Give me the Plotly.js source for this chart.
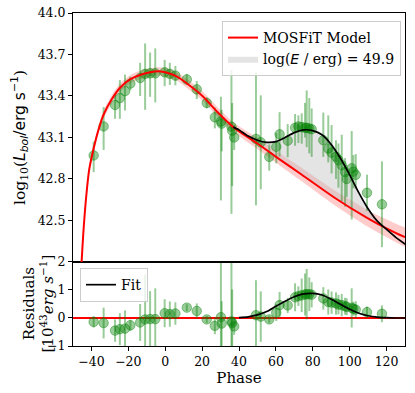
<!DOCTYPE html>
<html>
<head>
<meta charset="utf-8">
<script src="https://cdn.plot.ly/plotly-3.0.1.min.js"></script>
<style>
  html, body { margin: 0; padding: 0; background: #fff; }
  #chart { width: 415px; height: 393px; }
</style>
</head>
<body>
<div id="chart"></div>
<script>
// ---- observed bolometric light curve ----
const phase = [-38.8, -33.4, -27.2, -24.6, -21.8, -18.9, -13.6, -10.9, -8.2, -5.4, -0.3, 2.5, 5.5, 11.7, 17.1, 22.5, 26.9, 30.2, 30.6, 35.9, 36.3, 37.4, 49.2, 51.8, 56.4, 60.2, 62.0, 66.4, 70.4, 72.2, 74.0, 75.8, 76.7, 78.1, 79.4, 85.7, 88.4, 90.2, 92.6, 93.9, 95.7, 97.5, 98.4, 101.1, 102.0, 103.3, 109.4, 117.5];
const logL = [42.97, 43.18, 43.335, 43.385, 43.435, 43.49, 43.53, 43.56, 43.564, 43.564, 43.571, 43.56, 43.547, 43.52, 43.448, 43.35, 43.246, 43.215, 43.20, 43.178, 43.149, 43.10, 43.09, 43.065, 42.96, 43.033, 43.123, 43.077, 43.17, 43.18, 43.175, 43.17, 43.17, 43.165, 43.16, 43.08, 43.02, 42.99, 42.96, 42.937, 42.90, 42.85, 42.80, 42.877, 42.853, 42.83, 42.70, 42.617];
const logLErrUp = [0.10, 0.14, 0.08, 0.13, 0.12, 0.05, 0.11, 0.22, 0.15, 0.18, 0.09, 0.08, 0.07, 0.04, 0.06, 0.04, 0.07, 0.18, 0.10, 0.41, 0.20, 0.09, 0.48, 0.34, 0.09, 0.10, 0.16, 0.12, 0.10, 0.08, 0.10, 0.18, 0.27, 0.22, 0.15, 0.20, 0.24, 0.20, 0.12, 0.12, 0.22, 0.10, 0.10, 0.27, 0.12, 0.15, 0.13, 0.31];
const logLErrDn = [0.12, 0.17, 0.10, 0.15, 0.14, 0.05, 0.13, 0.26, 0.17, 0.21, 0.10, 0.08, 0.07, 0.04, 0.07, 0.04, 0.08, 0.57, 0.20, 0.63, 0.40, 0.09, 0.48, 0.34, 0.10, 0.12, 0.16, 0.12, 0.13, 0.12, 0.12, 0.07, 0.14, 0.18, 0.20, 0.12, 0.10, 0.15, 0.16, 0.20, 0.26, 0.25, 0.13, 0.37, 0.12, 0.10, 0.13, 0.31];
// ---- residuals (10^43 erg/s) ----
const resid = [-0.14, -0.18, -0.45, -0.40, -0.38, -0.26, -0.16, -0.05, -0.04, -0.04, 0.17, 0.14, 0.16, 0.37, 0.25, -0.05, -0.28, 0.03, -0.20, -0.12, -0.18, -0.30, 0.10, 0.05, -0.05, 0.19, 0.46, 0.45, 0.74, 0.78, 0.81, 0.84, 0.85, 0.85, 0.83, 0.70, 0.57, 0.55, 0.52, 0.48, 0.46, 0.42, 0.40, 0.36, 0.33, 0.30, 0.21, 0.15];
const residErr = [0.20, 0.55, 0.40, 0.57, 0.65, 0.20, 0.66, 1.60, 1.00, 1.10, 0.50, 0.45, 0.40, 0.12, 0.27, 0.12, 0.30, 2.50, 0.80, 2.50, 1.20, 0.30, 1.25, 0.90, 0.12, 0.30, 0.47, 0.27, 0.50, 0.35, 0.60, 0.75, 0.90, 0.60, 0.45, 0.40, 0.45, 0.40, 0.40, 0.35, 0.40, 0.30, 0.30, 0.70, 0.25, 0.30, 0.20, 0.30];
// ---- MOSFiT model ----
const modelPhase = [-46.2, -45.3, -44.4, -43.0, -41.2, -39.0, -36.3, -33.6, -29.0, -24.5, -19.1, -13.7, -8.1, -3.5, 1.0, 6.4, 11.8, 20.6, 27.9, 36.9, 49.6, 62.2, 73.1, 91.2, 109.2, 115.0, 127.3, 130.0];
const modelLogL = [42.0, 42.21, 42.41, 42.65, 42.87, 43.01, 43.15, 43.26, 43.376, 43.46, 43.52, 43.552, 43.571, 43.578, 43.568, 43.54, 43.49, 43.395, 43.29, 43.175, 43.06, 42.94, 42.84, 42.67, 42.52, 42.477, 42.395, 42.38];
const modelBand = [0.03, 0.03, 0.03, 0.03, 0.03, 0.03, 0.03, 0.03, 0.03, 0.03, 0.03, 0.03, 0.03, 0.03, 0.03, 0.03, 0.032, 0.033, 0.034, 0.036, 0.04, 0.044, 0.048, 0.054, 0.06, 0.062, 0.068, 0.07];
// ---- fit with extra energy (top) ----
const fitPhase = [36.9, 40, 45, 50, 55, 60, 65, 70, 75, 80, 85, 90, 95, 100, 105, 110, 115, 120, 125, 131];
const fitLogL = [43.175, 43.155, 43.11, 43.08, 43.065, 43.07, 43.10, 43.135, 43.155, 43.15, 43.12, 43.05, 42.95, 42.83, 42.70, 42.585, 42.495, 42.435, 42.378, 42.32];
// ---- fit of residuals (bottom) ----
const fitResPhase = [40, 45, 50, 55, 60, 65, 70, 75, 80, 85, 90, 95, 100, 105, 110, 115, 120, 125, 130];
const fitRes = [0.01, 0.04, 0.11, 0.23, 0.42, 0.60, 0.76, 0.86, 0.88, 0.82, 0.67, 0.49, 0.31, 0.17, 0.08, 0.03, 0.01, 0.0, 0.0];
const zeroPhase = [-50, 130];
const zeroRes = [0, 0];

const green = 'rgba(0,128,0,0.4)';
const serif = 'DejaVu Serif';

// shaded region between model and fit
const fillX = [], fillY = [];
for (let i = 0; i < fitPhase.length; i++) {
  if (fitPhase[i] <= 115) { fillX.push(fitPhase[i]); fillY.push(fitLogL[i]); }
}
for (let i = modelPhase.length - 1; i >= 0; i--) {
  if (modelPhase[i] >= 36.9 && modelPhase[i] <= 115) { fillX.push(modelPhase[i]); fillY.push(modelLogL[i]); }
}

const traces = [
  { x: modelPhase, y: modelLogL.map((v, i) => v + modelBand[i]), xaxis: 'x2', yaxis: 'y2', mode: 'lines',
    line: { width: 0, shape: 'spline', smoothing: 0.6 }, showlegend: false, hoverinfo: 'skip' },
  { x: modelPhase, y: modelLogL.map((v, i) => v - modelBand[i]), xaxis: 'x2', yaxis: 'y2', mode: 'lines',
    line: { width: 0, shape: 'spline', smoothing: 0.6 }, fill: 'tonexty', fillcolor: 'rgba(255,0,0,0.2)', showlegend: false, hoverinfo: 'skip' },
  { x: fillX, y: fillY, xaxis: 'x2', yaxis: 'y2', mode: 'lines', line: { width: 0 },
    fill: 'toself', fillcolor: 'rgba(190,190,190,0.42)',
    name: 'log(<span style="font-family:DejaVu Sans"><i>E</i></span> / erg) = 49.9', legend: 'legend', legendrank: 2000 },
  { x: phase, y: logL, xaxis: 'x2', yaxis: 'y2', mode: 'markers',
    marker: { color: green, size: 9.5, line: { color: green, width: 1 } },
    error_y: { type: 'data', symmetric: false, array: logLErrUp, arrayminus: logLErrDn, color: green, thickness: 2, width: 0 },
    showlegend: false },
  { x: modelPhase, y: modelLogL, xaxis: 'x2', yaxis: 'y2', mode: 'lines',
    line: { color: 'red', width: 2, shape: 'spline', smoothing: 0.6 }, name: 'MOSFiT Model', legend: 'legend', legendrank: 1 },
  { x: fitPhase, y: fitLogL, xaxis: 'x2', yaxis: 'y2', mode: 'lines',
    line: { color: 'black', width: 1.7, shape: 'spline', smoothing: 0.6 }, showlegend: false },
  // bottom panel
  { x: zeroPhase, y: zeroRes, xaxis: 'x', yaxis: 'y', mode: 'lines', line: { color: 'red', width: 2 }, showlegend: false },
  { x: phase, y: resid, xaxis: 'x', yaxis: 'y', mode: 'markers',
    marker: { color: green, size: 9.5, line: { color: green, width: 1 } },
    error_y: { type: 'data', array: residErr, color: green, thickness: 2, width: 0 }, showlegend: false },
  { x: fitResPhase, y: fitRes, xaxis: 'x', yaxis: 'y', mode: 'lines',
    line: { color: 'black', width: 1.7, shape: 'spline', smoothing: 0.6 }, name: 'Fit', legend: 'legend2' }
];

const axisCommon = {
  showline: true, linecolor: 'black', linewidth: 1, mirror: true,
  ticks: 'outside', ticklen: 4, tickwidth: 1, tickcolor: 'black',
  showgrid: false, zeroline: false,
  tickfont: { family: serif, size: 12.5, color: 'black' }
};

const layout = {
  width: 415, height: 393,
  margin: { l: 73, r: 10, t: 13, b: 47 },
  paper_bgcolor: 'white', plot_bgcolor: 'white',
  font: { family: serif, color: 'black' },
  showlegend: true,
  xaxis: Object.assign({}, axisCommon, {
    domain: [0, 1], anchor: 'y', range: [-50, 130], tick0: -40, dtick: 20,
    title: { text: 'Phase', font: { family: serif, size: 15 }, standoff: 4 }
  }),
  yaxis: Object.assign({}, axisCommon, {
    domain: [0, 0.2523], anchor: 'x', range: [-1, 2], tickvals: [-1, 0, 1, 2]
  }),
  xaxis2: Object.assign({}, axisCommon, {
    domain: [0, 1], anchor: 'y2', range: [-50, 130], matches: 'x', ticks: '', showticklabels: false
  }),
  yaxis2: Object.assign({}, axisCommon, {
    domain: [0.2523, 1], anchor: 'x2', range: [42.2, 44.0], tickvals: [42.5, 42.8, 43.1, 43.4, 43.7, 44.0],
    ticktext: ['42.5', '42.8', '43.1', '43.4', '43.7', '44.0'],
    title: { text: 'log<sub>10</sub>(<span style="font-family:DejaVu Sans"><i>L</i><sub><i>bol</i></sub>/erg s<sup>−1</sup></span>)', font: { family: serif, size: 15.5 }, standoff: 8 }
  }),
  annotations: [{
    text: 'Residuals<br>[10<sup>43</sup><i>erg s</i><sup>−1</sup>]',
    xref: 'paper', yref: 'paper', x: -0.102, y: 0.128, xanchor: 'center', yanchor: 'middle',
    textangle: -90, showarrow: false, font: { family: serif, size: 15, color: 'black' }
  }],
  legend: {
    x: 0.988, y: 0.976, xanchor: 'right', yanchor: 'top', traceorder: 'normal',
    bgcolor: 'rgba(255,255,255,0.8)', bordercolor: '#cccccc', borderwidth: 1,
    font: { family: serif, size: 14, color: 'black' }
  },
  legend2: {
    x: 0.021, y: 0.234, xanchor: 'left', yanchor: 'top',
    bgcolor: 'rgba(255,255,255,0.8)', bordercolor: '#cccccc', borderwidth: 1,
    font: { family: serif, size: 14, color: 'black' }
  }
};

Plotly.newPlot('chart', traces, layout, { staticPlot: true, displayModeBar: false });
</script>
</body>
</html>
